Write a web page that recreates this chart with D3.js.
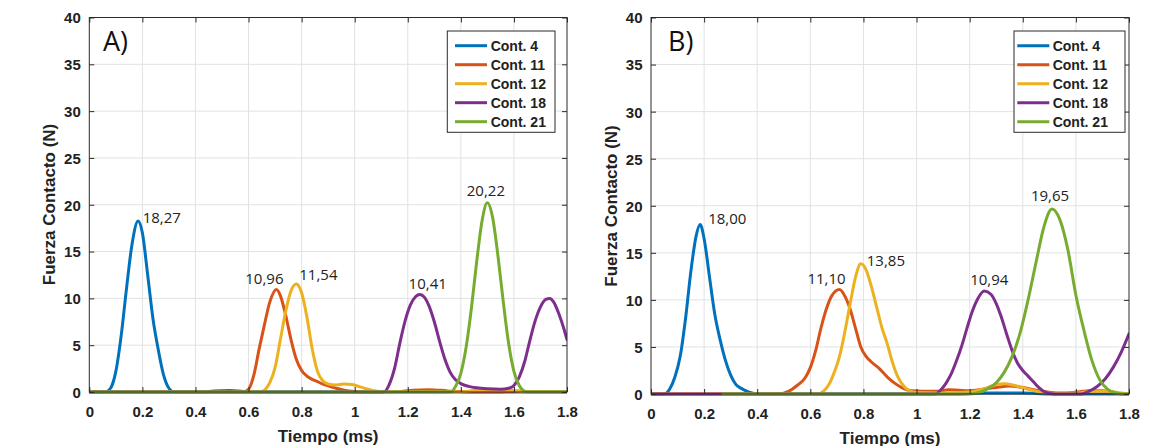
<!DOCTYPE html>
<html><head><meta charset="utf-8">
<script src="https://cdn.jsdelivr.net/npm/d3@7"></script>
<style>html,body{margin:0;padding:0;background:#fff;} svg{display:block;}</style>
</head><body>
<svg id="chart" width="1149" height="446"></svg>
<script>
// ---------- DATA ----------
const seriesNames = ["Cont. 4", "Cont. 11", "Cont. 12", "Cont. 18", "Cont. 21"];
const seriesColors = ["#0072BD", "#D95319", "#EDB120", "#7E2F8E", "#77AC30"];
const xTicks = [0, 0.2, 0.4, 0.6, 0.8, 1, 1.2, 1.4, 1.6, 1.8];
const yTicks = [0, 5, 10, 15, 20, 25, 30, 35, 40];
const panelLabels = ["A)", "B)"];
const xTitle = "Tiempo (ms)";
const yTitle = "Fuerza Contacto (N)";

// Panel A: [time (ms), force (N)]
const A_cont4 = [[0,0],[0.06,0],[0.08,0.4],[0.10,2.2],[0.12,6],[0.14,11],[0.16,15.6],[0.184,18.27],[0.20,17],[0.22,12.5],[0.24,7.8],[0.26,4.5],[0.28,1.8],[0.30,0.4],[0.32,0],[0.42,0],[0.47,0.1],[0.53,0.15],[0.58,0.05],[0.62,0],[1.8,0]];
const A_cont11 = [[0,0],[0.58,0],[0.60,0.3],[0.62,1.8],[0.64,4.6],[0.66,7.2],[0.68,9.6],[0.705,10.96],[0.72,10.3],[0.74,8.2],[0.76,5.6],[0.78,3.5],[0.80,2.3],[0.82,1.7],[0.84,1.35],[0.86,1.1],[0.88,0.85],[0.90,0.65],[0.93,0.4],[0.96,0.2],[1.0,0.05],[1.03,0],[1.15,0],[1.22,0.2],[1.28,0.25],[1.35,0.12],[1.42,0],[1.55,0],[1.6,0.1],[1.66,0],[1.8,0]];
const A_cont12 = [[0,0],[0.64,0],[0.66,0.2],[0.68,1.0],[0.70,2.6],[0.72,5.6],[0.74,8.6],[0.76,10.8],[0.78,11.54],[0.80,10.6],[0.82,8.0],[0.84,4.6],[0.86,2.2],[0.88,1.2],[0.90,0.85],[0.93,0.75],[0.96,0.85],[0.99,0.8],[1.02,0.55],[1.05,0.3],[1.08,0.1],[1.11,0],[1.40,0],[1.45,0.15],[1.52,0.2],[1.6,0.15],[1.66,0],[1.8,0]];
const A_cont18 = [[0,0],[1.11,0],[1.13,0.8],[1.15,2.5],[1.17,5.2],[1.19,7.6],[1.21,9.3],[1.23,10.2],[1.245,10.41],[1.26,10.2],[1.28,9.2],[1.30,7.5],[1.32,5.4],[1.34,3.5],[1.36,2.1],[1.38,1.3],[1.40,0.9],[1.43,0.6],[1.46,0.45],[1.50,0.35],[1.55,0.3],[1.58,0.4],[1.60,0.7],[1.62,1.6],[1.64,3.2],[1.66,5.5],[1.68,7.6],[1.70,9.1],[1.72,9.9],[1.735,10.0],[1.75,9.6],[1.77,8.3],[1.79,6.6],[1.80,5.6]];
const A_cont21 = [[0,0],[1.36,0],[1.38,0.6],[1.40,2],[1.42,4.8],[1.44,9],[1.46,14],[1.48,18.3],[1.50,20.22],[1.52,18.6],[1.54,14.5],[1.56,9.6],[1.58,5.2],[1.60,2.2],[1.62,0.7],[1.64,0.1],[1.66,0],[1.8,0]];

// Panel B
const B_cont4 = [[0,0],[0.05,0],[0.07,0.5],[0.09,1.8],[0.11,4],[0.13,8],[0.15,13],[0.17,16.8],[0.185,18.0],[0.20,16.5],[0.22,12.5],[0.24,8.5],[0.26,5.8],[0.28,3.6],[0.30,2.0],[0.32,1.0],[0.34,0.6],[0.36,0.3],[0.38,0.1],[0.40,0],[1.15,0],[1.25,0.1],[1.4,0.1],[1.5,0],[1.8,0]];
const B_cont11 = [[0,0],[0.48,0],[0.52,0.3],[0.55,0.9],[0.58,1.7],[0.60,2.8],[0.62,4.6],[0.64,7],[0.66,9],[0.68,10.4],[0.71,11.1],[0.73,10.4],[0.75,9.0],[0.77,7.0],[0.79,5.0],[0.81,4.0],[0.83,3.4],[0.86,2.7],[0.89,1.8],[0.92,1.1],[0.95,0.6],[0.98,0.35],[1.02,0.3],[1.08,0.3],[1.12,0.45],[1.16,0.4],[1.2,0.35],[1.25,0.5],[1.3,0.7],[1.35,0.85],[1.4,0.7],[1.45,0.4],[1.5,0.2],[1.55,0.1],[1.6,0.2],[1.65,0.35],[1.7,0.35],[1.75,0.15],[1.78,0],[1.8,0]];
const B_cont12 = [[0,0],[0.63,0],[0.65,0.3],[0.67,1.0],[0.69,2.3],[0.71,4.0],[0.73,6.6],[0.75,9.6],[0.77,12.4],[0.79,13.85],[0.81,13.2],[0.83,11.4],[0.85,9.2],[0.87,7.0],[0.89,5.3],[0.91,3.3],[0.93,1.8],[0.95,0.9],[0.97,0.4],[1.0,0.15],[1.1,0.1],[1.2,0.2],[1.26,0.6],[1.3,1.0],[1.33,1.1],[1.37,0.9],[1.42,0.5],[1.47,0.2],[1.52,0.05],[1.6,0.1],[1.66,0.3],[1.72,0.3],[1.77,0.1],[1.8,0]];
const B_cont18 = [[0,0],[1.07,0],[1.09,0.4],[1.11,1.1],[1.13,2.1],[1.15,3.5],[1.17,5.1],[1.19,7.0],[1.21,8.8],[1.23,10.1],[1.255,10.94],[1.28,10.6],[1.30,9.6],[1.32,8.1],[1.34,6.3],[1.36,4.6],[1.38,3.3],[1.40,2.5],[1.42,1.9],[1.44,1.3],[1.46,0.7],[1.48,0.25],[1.50,0.05],[1.52,0],[1.62,0],[1.65,0.3],[1.68,0.8],[1.71,1.6],[1.74,2.8],[1.77,4.4],[1.80,6.4]];
const B_cont21 = [[0.27,0],[1.2,0],[1.24,0.2],[1.27,0.6],[1.30,1.2],[1.33,2.3],[1.36,4],[1.39,6.5],[1.42,10],[1.45,14],[1.48,17.8],[1.51,19.65],[1.54,18.5],[1.57,15.3],[1.60,10.5],[1.63,6.8],[1.66,3.6],[1.69,1.5],[1.72,0.5],[1.75,0.1],[1.78,0],[1.8,0]];

// Peak annotations
const peakTimesA = [0.184, 0.705, 0.78, 1.245, 1.50];
const peakValuesA = [18.27, 10.96, 11.54, 10.41, 20.22];
const peakTextA = ["18,27", "10,96", "11,54", "10,41", "20,22"];
const peakTimesB = [0.185, 0.71, 0.79, 1.255, 1.51];
const peakValuesB = [18.00, 11.10, 13.85, 10.94, 19.65];
const peakTextB = ["18,00", "11,10", "13,85", "10,94", "19,65"];

// ---------- LAYOUT ----------
const panels = [
  { left: 89.3, right: 567, top: 17.5, bottom: 392,
    series: [A_cont4, A_cont11, A_cont12, A_cont18, A_cont21],
    peaks: { t: peakTimesA, v: peakValuesA, text: peakTextA },
    labelOffsets: [[4.5,-3,"start"],[-12,-10.5,"middle"],[3,-9,"start"],[8,-11,"middle"],[-1.5,-12,"middle"]],
    legend: { x0: 447.3, x1: 555, y0: 31, y1: 132.3, lx0: 455, lx1: 487, tx: 490.7, ry0: 45.7, dy: 19 },
    panelLabelX: 103, ytitleX: 49, ytitleY: 204.5, xtitleY: 441.5 },
  { left: 651, right: 1129, top: 17.5, bottom: 394,
    series: [B_cont4, B_cont11, B_cont12, B_cont18, B_cont21],
    peaks: { t: peakTimesB, v: peakValuesB, text: peakTextB },
    labelOffsets: [[8,-6,"start"],[-13,-11,"middle"],[6,-3,"start"],[5,-11,"middle"],[-2,-13,"middle"]],
    legend: { x0: 1014, x1: 1125, y0: 31, y1: 132.3, lx0: 1017.3, lx1: 1049.3, tx: 1052.7, ry0: 45.7, dy: 19 },
    panelLabelX: 668, ytitleX: 611.5, ytitleY: 206, xtitleY: 443.5 }
];

const svg = d3.select("#chart");
svg.append("rect").attr("width", 1149).attr("height", 446).attr("fill", "#fff");

const axisColor = "#2b2b2b";
const tickFont = "'Liberation Sans', Arial, sans-serif";

panels.forEach((p, pi) => {
  const x = d3.scaleLinear().domain([0, 1.8]).range([p.left, p.right]);
  const y = d3.scaleLinear().domain([0, 40]).range([p.bottom, p.top]);
  const g = svg.append("g");

  // grid
  const grid = g.append("g");
  grid.selectAll("line.gx").data(xTicks.slice(1, -1)).join("line")
    .attr("x1", d => x(d)).attr("x2", d => x(d)).attr("y1", p.top).attr("y2", p.bottom)
    .attr("stroke", "#e2e2e2").attr("stroke-width", 1);
  grid.selectAll("line.gy").data(yTicks.slice(1, -1)).join("line")
    .attr("y1", d => y(d)).attr("y2", d => y(d)).attr("x1", p.left).attr("x2", p.right)
    .attr("stroke", "#e2e2e2").attr("stroke-width", 1);

  // clip
  const clipId = "clip" + pi;
  svg.append("clipPath").attr("id", clipId).append("rect")
    .attr("x", p.left).attr("y", p.top - 2).attr("width", p.right - p.left).attr("height", p.bottom - p.top + 4);

  // lines
  const line = d3.line().x(d => x(d[0])).y(d => y(d[1])).curve(d3.curveMonotoneX);
  const lg = g.append("g").attr("clip-path", `url(#${clipId})`);
  p.series.forEach((s, si) => {
    lg.append("path").datum(s).attr("d", line).attr("fill", "none")
      .attr("stroke", seriesColors[si]).attr("stroke-width", 3)
      .attr("stroke-linejoin", "round").attr("stroke-linecap", "round");
  });

  // axes (ticks inward, mirrored)
  const ax = g.append("g");
  const xb = d3.axisBottom(x).tickValues(xTicks).tickSize(-5).tickPadding(0).tickFormat(d3.format("~g"));
  const axB = ax.append("g").attr("transform", `translate(0,${p.bottom})`).call(xb);
  axB.selectAll("text").attr("dy", null).attr("y", 24.5)
    .style("font-family", tickFont).style("font-weight", "bold").style("font-size", "15px").attr("fill", "#222");
  const xt = d3.axisTop(x).tickValues(xTicks).tickSize(-5).tickFormat("");
  ax.append("g").attr("transform", `translate(0,${p.top})`).call(xt);
  const yl = d3.axisLeft(y).tickValues(yTicks).tickSize(-5).tickPadding(0).tickFormat(d3.format("~g"));
  const axL = ax.append("g").attr("transform", `translate(${p.left},0)`).call(yl);
  axL.selectAll("text").attr("x", -8.5).attr("dy", "0.36em")
    .style("font-family", tickFont).style("font-weight", "bold").style("font-size", "15px").attr("fill", "#222");
  const yr = d3.axisRight(y).tickValues(yTicks).tickSize(-5).tickFormat("");
  ax.append("g").attr("transform", `translate(${p.right},0)`).call(yr);
  ax.selectAll(".domain").remove();
  ax.selectAll(".tick line").attr("stroke", axisColor);
  // frame
  g.append("rect").attr("x", p.left).attr("y", p.top).attr("width", p.right - p.left).attr("height", p.bottom - p.top)
    .attr("fill", "none").attr("stroke", axisColor).attr("stroke-width", 1);

  // axis titles
  g.append("text").attr("x", (p.left + p.right) / 2).attr("y", p.xtitleY).attr("text-anchor", "middle")
    .style("font-family", tickFont).style("font-weight", "bold").style("font-size", "17px").attr("fill", "#222")
    .text(xTitle);
  g.append("text").attr("transform", `translate(${p.ytitleX},${p.ytitleY}) rotate(-90)`).attr("dy", "0.35em")
    .attr("text-anchor", "middle")
    .style("font-family", tickFont).style("font-weight", "bold").style("font-size", "17px").attr("fill", "#222")
    .text(yTitle);

  // panel label
  g.append("text").attr("x", p.panelLabelX).attr("y", 50.5)
    .style("font-family", "'Open Sans', sans-serif").style("font-size", "27px").attr("fill", "#111")
    .text(panelLabels[pi]);

  // peak annotations
  p.peaks.t.forEach((t, i) => {
    const off = p.labelOffsets[i];
    g.append("text").attr("x", x(t) + off[0]).attr("y", y(p.peaks.v[i]) + off[1]).attr("dy", "0.36em")
      .attr("text-anchor", off[2])
      .style("font-family", "'Open Sans', sans-serif").style("font-size", "15px").attr("fill", "#222")
      .text(p.peaks.text[i]);
  });

  // legend
  const L = p.legend;
  const leg = g.append("g");
  leg.append("rect").attr("x", L.x0).attr("y", L.y0).attr("width", L.x1 - L.x0).attr("height", L.y1 - L.y0)
    .attr("fill", "#fff").attr("stroke", axisColor).attr("stroke-width", 1);
  seriesNames.forEach((name, i) => {
    const yy = L.ry0 + i * L.dy;
    leg.append("line").attr("x1", L.lx0).attr("x2", L.lx1).attr("y1", yy).attr("y2", yy)
      .attr("stroke", seriesColors[i]).attr("stroke-width", 3);
    leg.append("text").attr("x", L.tx).attr("y", yy).attr("dy", "0.36em")
      .style("font-family", tickFont).style("font-weight", "bold").style("font-size", "14px").attr("fill", "#222")
      .text(name);
  });
});
</script>
</body></html>
